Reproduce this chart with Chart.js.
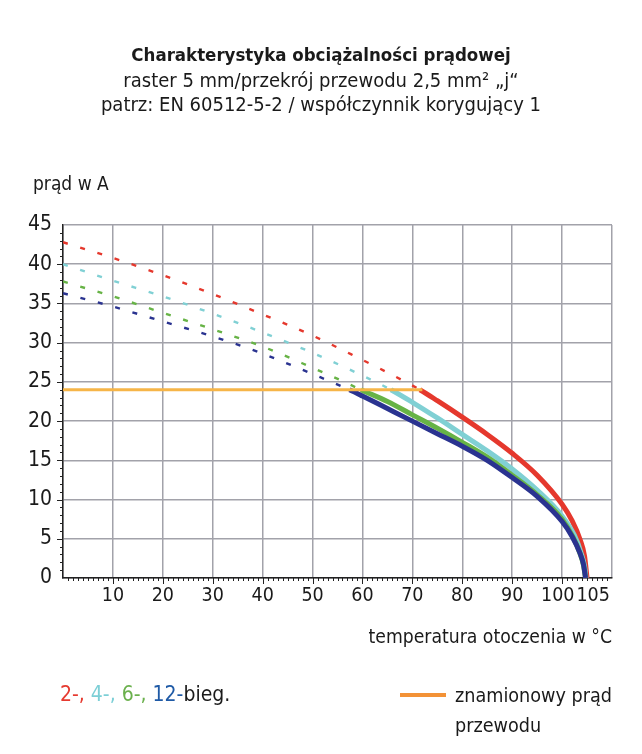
<!DOCTYPE html>
<html lang="pl">
<head>
<meta charset="utf-8">
<script src="https://cdn.jsdelivr.net/npm/chart.js@4.4.1/dist/chart.umd.min.js"></script>
<style>
  body { margin: 0; background: #fff; }
  #wrap { position: relative; width: 642px; height: 754px; overflow: hidden;
          font-family: 'DejaVu Sans Condensed', 'Liberation Sans Narrow', Roboto, sans-serif; color: #1a1a1a; }
  canvas { position: absolute; left: 0; top: 0; }
  .t { position: absolute; white-space: nowrap; }
  #title { left: 0; width: 642px; top: 42px; text-align: center; font-size: 20px; line-height: 24.5px; }
  #title b { font-weight: bold; font-size: 18.5px; }
  #ylab { left: 33px; top: 172px; font-size: 19px; }
  #xlab { right: 30px; top: 625px; font-size: 19.2px; }
  #leg1 { left: 60px; top: 682px; font-size: 21px; }
  #leg2 { left: 455px; top: 681px; font-size: 19.6px; line-height: 30px; }
  #legline { left: 400px; top: 693px; width: 46px; height: 4px; background: #f39236; }
</style>
</head>
<body>
<div id="wrap">
  <canvas id="chart" width="642" height="754"></canvas>
  <div class="t" id="title"><b>Charakterystyka obciążalności prądowej</b><br>raster 5 mm/przekrój przewodu 2,5 mm² „j“<br>patrz: EN 60512-5-2 / współczynnik korygujący 1</div>
  <div class="t" id="ylab">prąd w A</div>
  <div class="t" id="xlab">temperatura otoczenia w °C</div>
  <div class="t" id="leg1"><span style="color:#e63a30">2-, </span><span style="color:#7ccfd6">4-, </span><span style="color:#6ab04c">6-, </span><span style="color:#1f5aa6">12-</span>bieg.</div>
  <div class="t" id="legline"></div>
  <div class="t" id="leg2">znamionowy prąd<br>przewodu</div>
</div>
<script>
// DATA ------------------------------------------------------

// ambient temperature (°C) and current (A)
const redTemp = [0, 10, 20, 30, 40, 50, 60, 65, 71.5, 75, 80, 85, 90, 95, 100, 102, 103.6, 104.5, 105];
const redAmp = [42.8, 40.8, 38.6, 36.2, 33.6, 30.9, 27.8, 26.2, 24, 22.6, 20.5, 18.3, 15.9, 13.1, 9.4, 7.3, 4.9, 2.8, 0];

const cyanTemp = [0, 10, 20, 30, 40, 50, 60, 65.7, 70, 75, 80, 85, 90, 95, 100, 102.5, 103.8, 104.5, 104.8];
const cyanAmp = [40.0, 37.9, 35.9, 33.7, 31.3, 28.7, 25.8, 24, 22.4, 20.4, 18.3, 16.2, 13.9, 11.2, 7.9, 5.4, 3.2, 1.5, 0];

const greenTemp = [0, 10, 20, 30, 40, 50, 56, 59.7, 65, 70, 75, 80, 85, 90, 95, 100, 102.2, 103.6, 104.3, 104.7];
const greenAmp = [37.8, 35.9, 33.8, 31.7, 29.5, 26.8, 25.1, 24, 22.5, 20.8, 19.1, 17.3, 15.4, 13.1, 10.6, 7.5, 5.2, 3.1, 1.6, 0];

const navyTemp = [0, 10, 20, 30, 40, 50, 57.4, 60, 65, 70, 75, 80, 85, 90, 95, 100, 102, 103.5, 104.3, 104.7];
const navyAmp = [36.3, 34.6, 32.7, 30.8, 28.6, 26.0, 24, 23.2, 21.6, 20.0, 18.4, 16.8, 15.0, 12.8, 10.4, 7.2, 5.3, 3.3, 1.7, 0];

// rated conductor current
const ratedTemp = [0, 72];
const ratedAmp = [24, 24];

const xTicks = [0, 10, 20, 30, 40, 50, 60, 70, 80, 90, 100, 105, 110];
const RATED = 24;

// CHART ------------------------------------------------------

const font = "'DejaVu Sans Condensed', 'Liberation Sans Narrow', Roboto, sans-serif";
const points = (xs, ys) => xs.map((x, i) => ({ x: x, y: ys[i] }));

function curve(xs, ys, color) {
    return {
        data: points(xs, ys),
        borderColor: color,
        borderWidth: 5,
        pointRadius: 0,
        fill: false,
        cubicInterpolationMode: 'monotone',
        borderCapStyle: 'butt',
        segment: {
            // above the rated current the curve is only a dotted extrapolation
            borderDash: ctx => ctx.p0.parsed.y > RATED + 0.01 ? [5, 13] : undefined,
            borderWidth: ctx => ctx.p0.parsed.y > RATED + 0.01 ? 2.4 : undefined
        }
    };
}

// 100 and 105 sit very close, so push them slightly apart
function xLabel(v) {
    if (v === 0 || v === 110) return '';
    if (v === 100) return '100\u2002';
    if (v === 105) return '\u2002\u2009105';
    return String(v);
}

// small tick marks along both axes
const minorTicks = {
    id: 'minorTicks',
    afterDraw(chart) {
        const { ctx, scales: { x, y }, chartArea: a } = chart;
        ctx.save();
        ctx.strokeStyle = '#222';
        ctx.lineWidth = 1;
        ctx.beginPath();
        for (let v = 1; v < 110; v++) {
            const px = Math.round(x.getPixelForValue(v)) + 0.5;
            const len = v % 10 === 0 ? 6 : 3;
            ctx.moveTo(px, a.bottom);
            ctx.lineTo(px, a.bottom + len);
        }
        for (let v = 1; v < 45; v++) {
            const py = Math.round(y.getPixelForValue(v)) + 0.5;
            const len = v % 5 === 0 ? 6 : 3;
            ctx.moveTo(a.left, py);
            ctx.lineTo(a.left - len, py);
        }
        ctx.stroke();
        ctx.restore();
    }
};

const chart = new Chart(document.getElementById('chart'), {
    type: 'line',
    data: {
        datasets: [
            {
                data: points(ratedTemp, ratedAmp),
                borderColor: '#f6b548',
                borderWidth: 3,
                pointRadius: 0,
                fill: false
            },
            curve(navyTemp, navyAmp, '#2a3390'),
            curve(greenTemp, greenAmp, '#67b346'),
            curve(cyanTemp, cyanAmp, '#80d0d4'),
            curve(redTemp, redAmp, '#e5382d')
        ]
    },
    options: {
        responsive: false,
        animation: false,
        layout: { padding: { left: 0, top: 225, right: 30, bottom: 0 } },
        plugins: {
            legend: { display: false },
            tooltip: { enabled: false }
        },
        scales: {
            x: {
                type: 'linear',
                min: 0,
                max: 110,
                afterBuildTicks: scale => { scale.ticks = xTicks.map(v => ({ value: v })); },
                afterFit: scale => { scale.height = 176; },
                grid: {
                    color: ctx => ctx.tick && ctx.tick.value % 10 === 0 ? '#a2a2aa' : 'rgba(0,0,0,0)',
                    lineWidth: 1.5,
                    drawTicks: false
                },
                border: { color: '#222', width: 1.5 },
                ticks: {
                    autoSkip: false,
                    maxRotation: 0,
                    padding: 6,
                    color: '#1a1a1a',
                    font: { family: font, size: 19.5 },
                    callback: xLabel
                }
            },
            y: {
                min: 0,
                max: 45,
                afterFit: scale => { scale.width = 63; },
                grid: { color: '#a2a2aa', lineWidth: 1.5, drawTicks: false },
                border: { color: '#222', width: 1.5 },
                ticks: {
                    stepSize: 5,
                    padding: 11,
                    color: '#1a1a1a',
                    font: { family: font, size: 21 }
                }
            }
        }
    },
    plugins: [minorTicks]
});
</script>
</body>
</html>
